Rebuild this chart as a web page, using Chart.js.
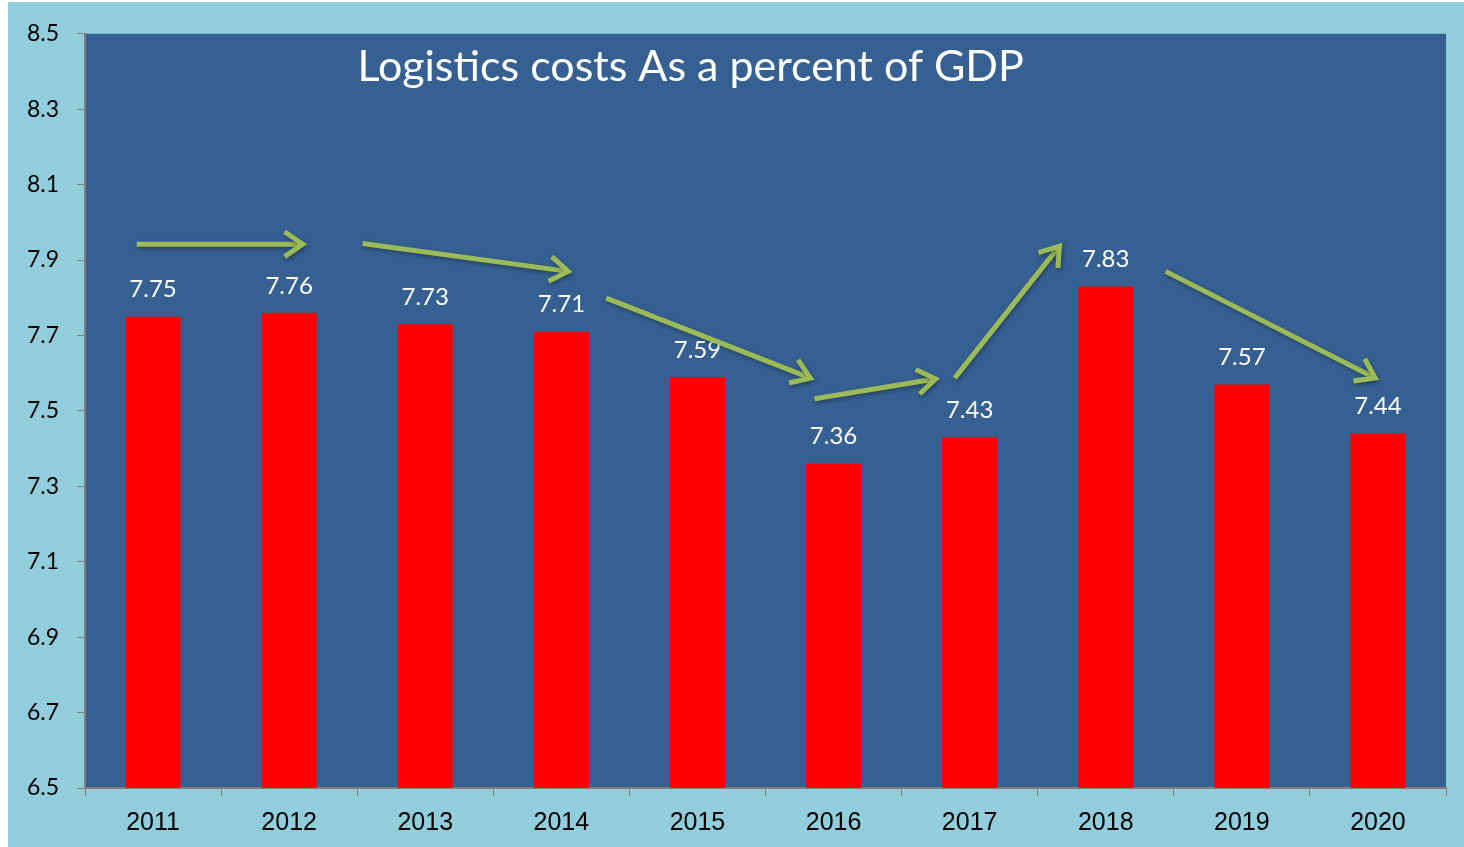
<!DOCTYPE html>
<html>
<head>
<meta charset="utf-8">
<script src="https://cdn.jsdelivr.net/npm/chart.js@4.4.1/dist/chart.umd.min.js"></script>
<style>
  html, body { margin: 0; padding: 0; background: #ffffff; }
  #wrap { position: absolute; left: 8px; top: 2px; width: 1456px; height: 845px; background: #92CDDC; }
  canvas { display: block; }
</style>
</head>
<body>
<div id="wrap"><canvas id="c" width="1456" height="845"></canvas></div>
<script>
const categories = ['2011','2012','2013','2014','2015','2016','2017','2018','2019','2020'];
const values = [7.75, 7.76, 7.73, 7.71, 7.59, 7.36, 7.43, 7.83, 7.57, 7.44];
const yTicks = [6.5, 6.7, 6.9, 7.1, 7.3, 7.5, 7.7, 7.9, 8.1, 8.3, 8.5];
const chartTitle = 'Logistics costs As a percent of GDP';
// trend arrows in data coordinates: [fromIndex, fromValue, toIndex, toValue]
const arrowStartIdx = [-0.12, 1.54, 3.33, 4.86, 5.89, 7.44];
const arrowStartVal = [7.942, 7.944, 7.799, 7.532, 7.587, 7.870];
const arrowEndIdx   = [1.10, 3.05, 4.83, 5.75, 6.66, 8.98];
const arrowEndVal   = [7.942, 7.870, 7.587, 7.585, 7.937, 7.587];

const bgPlugin = {
  id: 'plotBg',
  beforeDraw(chart) {
    const {ctx, chartArea: a} = chart;
    ctx.save();
    ctx.fillStyle = '#366092';
    ctx.fillRect(a.left, a.top, a.right - a.left, a.bottom - a.top);
    ctx.restore();
  }
};

const overlayPlugin = {
  id: 'overlay',
  afterDatasetsDraw(chart) {
    const {ctx, chartArea: a, scales: {x, y}} = chart;
    ctx.save();
    // data labels
    ctx.fillStyle = '#ffffff';
    ctx.font = '24px Lato, "Open Sans", sans-serif';
    ctx.textAlign = 'center';
    ctx.textBaseline = 'middle';
    values.forEach((v, i) => {
      ctx.fillText(v.toFixed(2), x.getPixelForValue(i), y.getPixelForValue(v) - 27);
    });
    // title
    ctx.font = '43px Lato, "Open Sans", sans-serif';
    ctx.fillText(chartTitle, a.left + (a.right - a.left) * 0.445, a.top + 33);
    // arrows
    ctx.strokeStyle = '#9BBB59';
    ctx.lineWidth = 5;
    ctx.lineCap = 'butt';
    ctx.lineJoin = 'miter';
    ctx.shadowColor = 'rgba(0,0,0,0.35)';
    ctx.shadowBlur = 4;
    ctx.shadowOffsetX = 1;
    ctx.shadowOffsetY = 2;
    for (let k = 0; k < arrowStartIdx.length; k++) {
      const x1 = x.getPixelForValue(arrowStartIdx[k]);
      const y1 = y.getPixelForValue(arrowStartVal[k]);
      const x2 = x.getPixelForValue(arrowEndIdx[k]);
      const y2 = y.getPixelForValue(arrowEndVal[k]);
      const ang = Math.atan2(y2 - y1, x2 - x1);
      const L = 22, spread = 0.6;
      ctx.beginPath();
      ctx.moveTo(x1, y1);
      ctx.lineTo(x2 - 2 * Math.cos(ang), y2 - 2 * Math.sin(ang));
      ctx.stroke();
      ctx.beginPath();
      ctx.moveTo(x2 - L * Math.cos(ang - spread), y2 - L * Math.sin(ang - spread));
      ctx.lineTo(x2, y2);
      ctx.lineTo(x2 - L * Math.cos(ang + spread), y2 - L * Math.sin(ang + spread));
      ctx.stroke();
    }
    ctx.restore();
  }
};

new Chart(document.getElementById('c'), {
  type: 'bar',
  data: {
    labels: categories,
    datasets: [{
      data: values,
      backgroundColor: '#FF0000',
      borderWidth: 0,
      barPercentage: 0.404,
      categoryPercentage: 1.0
    }]
  },
  options: {
    responsive: false,
    animation: false,
    devicePixelRatio: 1,
    layout: { padding: { top: 28, right: 18, left: 0, bottom: 0 } },
    plugins: { legend: { display: false }, tooltip: { enabled: false }, title: { display: false } },
    scales: {
      x: {
        grid: { display: true, drawOnChartArea: false, drawTicks: true, tickLength: 8, color: '#808080', offset: true },
        border: { display: true, color: '#808080', width: 2 },
        ticks: { color: '#000000', font: { family: '"Liberation Sans", Arial, sans-serif', size: 25 }, padding: 12, maxRotation: 0 },
        afterFit(scale) { scale.height = 59; }
      },
      y: {
        min: 6.5, max: 8.5,
        afterBuildTicks(scale) { scale.ticks = yTicks.map(v => ({ value: v })); },
        grid: { display: true, drawOnChartArea: false, drawTicks: true, tickLength: 8, color: '#808080' },
        border: { display: true, color: '#808080', width: 2 },
        ticks: { color: '#000000', font: { family: 'Lato, "Open Sans", sans-serif', size: 23 }, padding: 18,
                 callback: (v) => Number(v).toFixed(1) },
        afterFit(scale) { scale.width = 77; }
      }
    }
  },
  plugins: [bgPlugin, overlayPlugin]
});
</script>
</body>
</html>
